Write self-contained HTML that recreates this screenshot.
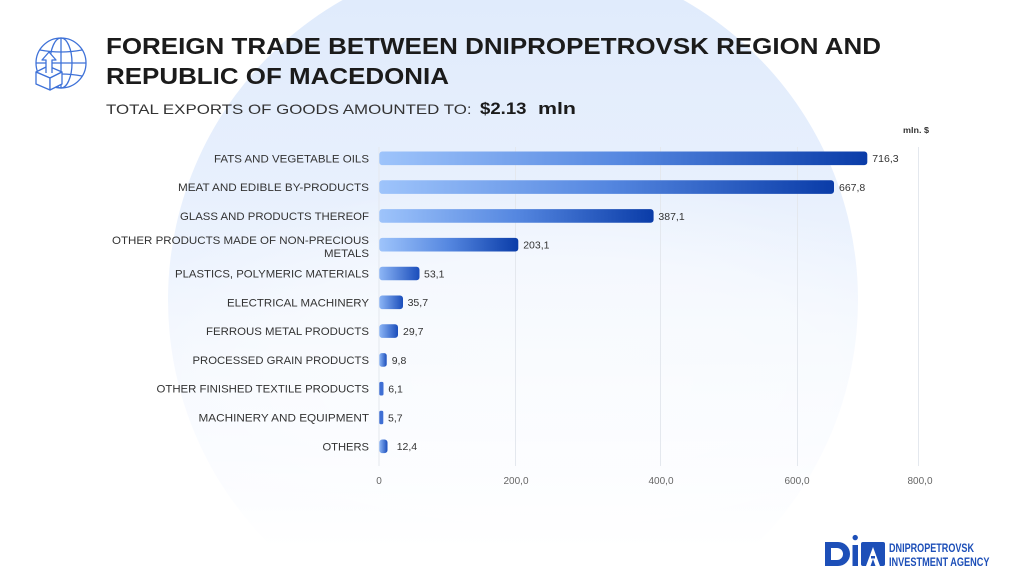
<!DOCTYPE html>
<html><head><meta charset="utf-8"><style>
html,body{margin:0;padding:0;background:#fff;width:1024px;height:576px;overflow:hidden;}
svg{display:block;}
text{font-family:"Liberation Sans",sans-serif;}
</style></head><body>
<svg width="1024" height="576" viewBox="0 0 1024 576" xmlns="http://www.w3.org/2000/svg">
<defs>
<linearGradient id="circ" gradientUnits="userSpaceOnUse" x1="0" y1="0" x2="0" y2="645">
<stop offset="0" stop-color="#e0ebfc"/>
<stop offset="0.3" stop-color="#e8f0fd"/>
<stop offset="0.5" stop-color="#f1f6fe"/>
<stop offset="0.7" stop-color="#f9fbff"/>
<stop offset="0.85" stop-color="#ffffff"/>
<stop offset="1" stop-color="#ffffff"/>
</linearGradient>
<radialGradient id="glow" cx="0.5" cy="0.5" r="0.5">
<stop offset="0" stop-color="#ffffff" stop-opacity="0.5"/>
<stop offset="0.6" stop-color="#ffffff" stop-opacity="0.4"/>
<stop offset="1" stop-color="#ffffff" stop-opacity="0"/>
</radialGradient>
<linearGradient id="bar" x1="0" y1="0" x2="1" y2="0">
<stop offset="0" stop-color="#9ec4fb"/>
<stop offset="0.5" stop-color="#5587e0"/>
<stop offset="1" stop-color="#0a3ca8"/>
</linearGradient>
<linearGradient id="bars" x1="0" y1="0" x2="1" y2="0">
<stop offset="0" stop-color="#8db6f6"/>
<stop offset="1" stop-color="#1a4dbb"/>
</linearGradient>
</defs>

<rect width="1024" height="576" fill="#fff"/>
<path d="M306,576 A345,345 0 1 1 720,576 Z" fill="url(#circ)"/>
<rect x="80" y="180" width="944" height="396" fill="url(#glow)"/>

<!-- globe icon -->
<g fill="none" stroke="#3f72d8" stroke-width="1.3">
<circle cx="61" cy="63" r="25"/>
<ellipse cx="61" cy="63" rx="11" ry="25"/>
<line x1="61" y1="38" x2="61" y2="88"/>
<line x1="36" y1="63" x2="86" y2="63"/>
<path d="M40,50 Q61,54 82,50"/>
<path d="M40,76 Q61,72 82,76"/>
</g>
<g stroke="#3f72d8" stroke-width="1.3" stroke-linejoin="round">
<path d="M36,72 L48,66 L62,72 L50,78 Z" fill="#fff"/>
<path d="M36,72 L36,84 L50,90 L50,78 Z" fill="#fff"/>
<path d="M50,78 L62,72 L62,84 L50,90 Z" fill="#fff"/>
<path d="M46,73 L46,60 L42,60 L49,52 L56,60 L52,60 L52,73" fill="#fff"/>
</g>

<!-- title -->
<text x="106" y="54" font-size="23.5" font-weight="bold" fill="#1b1b1b" textLength="775" lengthAdjust="spacingAndGlyphs">FOREIGN TRADE BETWEEN DNIPROPETROVSK REGION AND</text>
<text x="106" y="84" font-size="23.5" font-weight="bold" fill="#1b1b1b" textLength="343" lengthAdjust="spacingAndGlyphs">REPUBLIC OF MACEDONIA</text>
<text x="106" y="114" font-size="14" fill="#333" textLength="365.6" lengthAdjust="spacingAndGlyphs">TOTAL EXPORTS OF GOODS AMOUNTED TO:</text>
<text x="480" y="114" font-size="16.5" font-weight="bold" fill="#1b1b1b" textLength="46.5" lengthAdjust="spacingAndGlyphs">$2.13</text>
<text x="538" y="114" font-size="16.5" font-weight="bold" fill="#1b1b1b" textLength="38" lengthAdjust="spacingAndGlyphs">mln</text>
<text x="903" y="133" font-size="8" font-weight="bold" fill="#333" textLength="26" lengthAdjust="spacingAndGlyphs">mln. $</text>

<!-- gridlines -->
<g stroke="#e4e8ee" stroke-width="1">
<line x1="379" y1="147" x2="379" y2="466"/>
<line x1="515.5" y1="147" x2="515.5" y2="466"/>
<line x1="660.5" y1="147" x2="660.5" y2="466"/>
<line x1="797.5" y1="147" x2="797.5" y2="466"/>
<line x1="918.5" y1="147" x2="918.5" y2="466"/>
</g>

<!-- category labels -->
<g font-size="11" fill="#333">
<text x="214" y="162.3" textLength="155" lengthAdjust="spacingAndGlyphs">FATS AND VEGETABLE OILS</text>
<text x="178" y="191.1" textLength="191" lengthAdjust="spacingAndGlyphs">MEAT AND EDIBLE BY-PRODUCTS</text>
<text x="180" y="219.9" textLength="189" lengthAdjust="spacingAndGlyphs">GLASS AND PRODUCTS THEREOF</text>
<text x="112" y="244" textLength="257" lengthAdjust="spacingAndGlyphs">OTHER PRODUCTS MADE OF NON-PRECIOUS</text>
<text x="324" y="256.8" textLength="45" lengthAdjust="spacingAndGlyphs">METALS</text>
<text x="175" y="277.5" textLength="194" lengthAdjust="spacingAndGlyphs">PLASTICS, POLYMERIC MATERIALS</text>
<text x="227" y="306.3" textLength="142" lengthAdjust="spacingAndGlyphs">ELECTRICAL MACHINERY</text>
<text x="206" y="335.1" textLength="163" lengthAdjust="spacingAndGlyphs">FERROUS METAL PRODUCTS</text>
<text x="192.5" y="363.9" textLength="176.5" lengthAdjust="spacingAndGlyphs">PROCESSED GRAIN PRODUCTS</text>
<text x="156.5" y="392.7" textLength="212.5" lengthAdjust="spacingAndGlyphs">OTHER FINISHED TEXTILE PRODUCTS</text>
<text x="198.5" y="421.5" textLength="170.5" lengthAdjust="spacingAndGlyphs">MACHINERY AND EQUIPMENT</text>
<text x="322.5" y="450.3" textLength="46.5" lengthAdjust="spacingAndGlyphs">OTHERS</text>
</g>

<!-- bars -->
<g>
<rect x="379.3" y="151.5" width="488" height="13.6" rx="3" fill="url(#bar)"/>
<rect x="379.3" y="180.3" width="454.7" height="13.6" rx="3" fill="url(#bar)"/>
<rect x="379.3" y="209.1" width="274.3" height="13.6" rx="3" fill="url(#bar)"/>
<rect x="379.3" y="237.9" width="139" height="13.6" rx="3" fill="url(#bar)"/>
<rect x="379.3" y="266.7" width="40.2" height="13.6" rx="3" fill="url(#bars)"/>
<rect x="379.3" y="295.5" width="23.7" height="13.6" rx="3" fill="url(#bars)"/>
<rect x="379.3" y="324.3" width="18.7" height="13.6" rx="3" fill="url(#bars)"/>
<rect x="379.3" y="353.1" width="7.4" height="13.6" rx="2.5" fill="url(#bars)"/>
<rect x="379.3" y="381.9" width="4.2" height="13.6" rx="1.5" fill="#3f6fd4"/>
<rect x="379.3" y="410.7" width="4" height="13.6" rx="1.5" fill="#3f6fd4"/>
<rect x="379.3" y="439.5" width="8.2" height="13.6" rx="3" fill="url(#bars)"/>
</g>

<!-- value labels -->
<g font-size="10.5" fill="#333">
<text x="872.3" y="162.2">716,3</text>
<text x="839" y="191">667,8</text>
<text x="658.4" y="219.8">387,1</text>
<text x="523.2" y="248.6">203,1</text>
<text x="424" y="277.4">53,1</text>
<text x="407.6" y="306.2">35,7</text>
<text x="403" y="335">29,7</text>
<text x="391.7" y="363.8">9,8</text>
<text x="388.3" y="392.6">6,1</text>
<text x="388" y="421.4">5,7</text>
<text x="396.7" y="450.2">12,4</text>
</g>

<!-- tick labels -->
<g font-size="10" fill="#666" text-anchor="middle">
<text x="379" y="484">0</text>
<text x="516" y="484">200,0</text>
<text x="661" y="484">400,0</text>
<text x="797" y="484">600,0</text>
<text x="920" y="484">800,0</text>
</g>

<!-- logo -->
<g fill="#1d4fb8">
<path fill-rule="evenodd" d="M825,542 H838 A12,12 0 0 1 850,554 A12,12 0 0 1 838,566 H825 Z M831,548 H837 A6,6 0 0 1 837,560 H831 Z"/>
<rect x="852.5" y="545" width="5.5" height="21"/>
<circle cx="855.2" cy="537.6" r="2.7"/>
<rect x="861" y="542" width="24" height="24" rx="2"/>
</g>
<path d="M873,547 L866,566 H870.5 L873,559 L875.5,566 H880 Z" fill="#fff"/>
<rect x="871" y="556" width="4" height="2.5" fill="#1d4fb8"/>
<text x="889" y="552" font-size="11.5" font-weight="bold" fill="#1d4fb8" textLength="85" lengthAdjust="spacingAndGlyphs">DNIPROPETROVSK</text>
<text x="889" y="566" font-size="11.5" font-weight="bold" fill="#1d4fb8" textLength="100.5" lengthAdjust="spacingAndGlyphs">INVESTMENT AGENCY</text>
</svg>
</body></html>
